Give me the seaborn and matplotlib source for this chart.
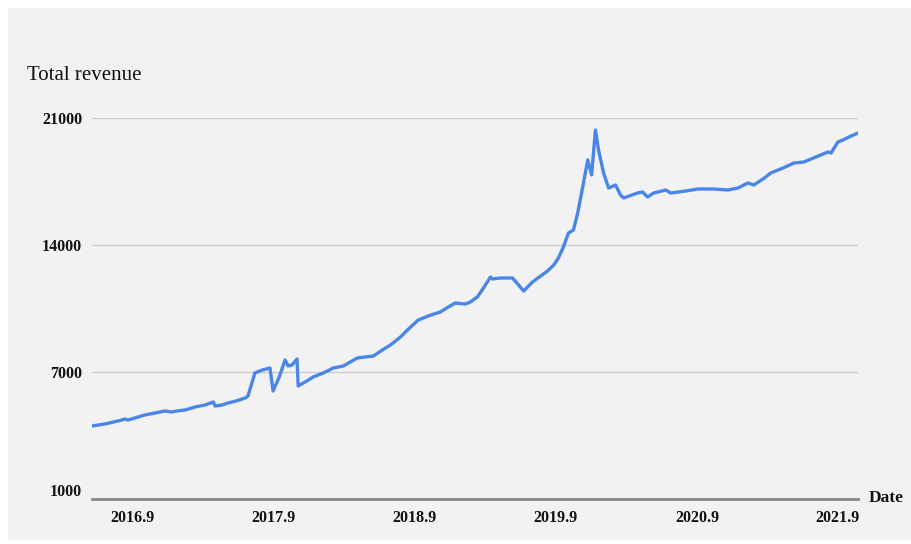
import matplotlib
matplotlib.use("Agg")
import matplotlib.pyplot as plt
from matplotlib.patches import Rectangle
from matplotlib.transforms import ScaledTranslation
import pandas as pd
import seaborn as sns

dates = [
    "2016-05-18", "2016-06-20", "2016-07-24", "2016-08-03", "2016-08-11", "2016-08-19",
    "2016-10-02", "2016-10-28", "2016-11-23", "2016-12-09", "2016-12-24", "2017-01-14",
    "2017-02-09", "2017-03-07", "2017-03-28", "2017-04-02", "2017-04-20", "2017-05-05",
    "2017-05-26", "2017-06-19", "2017-06-26", "2017-07-14", "2017-08-02", "2017-08-22",
    "2017-08-30", "2017-09-15", "2017-09-30", "2017-10-08", "2017-10-18", "2017-10-31",
    "2017-11-03", "2017-11-21", "2017-12-12", "2018-01-07", "2018-02-02", "2018-02-28",
    "2018-04-05", "2018-05-17", "2018-06-09", "2018-06-30", "2018-07-26", "2018-08-13",
    "2018-09-10", "2018-10-06", "2018-11-06", "2018-11-27", "2018-12-15", "2019-01-10",
    "2019-01-23", "2019-02-10", "2019-02-26", "2019-03-16", "2019-03-21", "2019-04-11",
    "2019-04-29", "2019-05-12", "2019-05-28", "2019-06-10", "2019-06-20", "2019-07-03",
    "2019-07-24", "2019-08-11", "2019-08-27", "2019-09-08", "2019-09-21", "2019-10-04",
    "2019-10-17", "2019-10-28", "2019-11-05", "2019-11-10", "2019-11-23", "2019-12-03",
    "2019-12-13", "2019-12-21", "2020-01-03", "2020-01-16", "2020-02-03", "2020-02-16",
    "2020-02-24", "2020-03-31", "2020-04-13", "2020-04-26", "2020-05-12", "2020-06-12",
    "2020-06-25", "2020-08-03", "2020-09-03", "2020-10-12", "2020-11-20", "2020-12-16",
    "2021-01-11", "2021-01-26", "2021-02-19", "2021-03-11", "2021-04-12", "2021-05-10",
    "2021-06-05", "2021-07-06", "2021-08-06", "2021-08-14", "2021-09-01", "2021-09-14",
    "2021-10-05", "2021-10-23",
]
revenue = [
    4024, 4134, 4299, 4354, 4410, 4354,
    4630, 4740, 4851, 4795, 4851, 4906,
    5071, 5181, 5347, 5126, 5181, 5292,
    5402, 5567, 5677, 6945, 7110, 7221,
    5953, 6725, 7662, 7331, 7386, 7717,
    6229, 6449, 6725, 6945, 7221, 7331,
    7772, 7882, 8213, 8488, 8929, 9315,
    9866, 10087, 10307, 10583, 10803, 10748,
    10858, 11134, 11630, 12236, 12126, 12181,
    12181, 12181, 11795, 11465, 11685, 11961,
    12292, 12567, 12898, 13284, 13890, 14662,
    14827, 15764, 16646, 17200, 18689, 17862,
    20339, 19237, 17969, 17142, 17307, 16756,
    16591, 16866, 16921, 16646, 16866, 17032,
    16866, 16976, 17087, 17087, 17032, 17142,
    17418, 17307, 17638, 17969, 18244, 18520,
    18575, 18851, 19127, 19071, 19677, 19787,
    20008, 20173,
]
tick_dates = ["2016-09-01", "2017-09-01", "2018-09-01", "2019-09-01", "2020-09-01", "2021-09-01"]
tick_labels = ["2016.9", "2017.9", "2018.9", "2019.9", "2020.9", "2021.9"]
y_ticks = [0, 7000, 14000, 21000]
y_labels = ["1000", "7000", "14000", "21000"]

df = pd.DataFrame({"Date": pd.to_datetime(dates), "Total revenue": revenue})

sns.set_style("white")
plt.rcParams["font.family"] = ["Liberation Serif", "DejaVu Serif"]

fig = plt.figure(figsize=(9.12, 5.44), dpi=100, facecolor="white")
bg = Rectangle((8 / 912, 4 / 544), 1 - 8 / 912, 532 / 544,
               transform=fig.transFigure, facecolor="#f2f2f2",
               edgecolor="none", zorder=-10)
fig.patches.append(bg)
ax = fig.add_axes([92 / 912, 1 - 499 / 544, (858 - 92) / 912, (499 - 118) / 544])
ax.set_facecolor("none")
ax.set_zorder(1)

sns.lineplot(data=df, x="Date", y="Total revenue", ax=ax, color="#4a86e8",
             linewidth=2.4, zorder=3)

ax.set_xlim(df["Date"].iloc[0], df["Date"].iloc[-1])
ax.set_ylim(0, 21000)
ax.set_yticks(y_ticks)
ax.set_yticklabels(y_labels, fontsize=11.5, fontweight="bold", color="#111111")
ax.set_xticks(pd.to_datetime(tick_dates))
ax.set_xticklabels(tick_labels, fontsize=11.5, fontweight="bold", color="#111111")
ax.tick_params(axis="y", length=0, pad=7)
ax.tick_params(axis="x", length=0, pad=8)
first = ax.get_yticklabels()[0]
first.set_transform(first.get_transform() + ScaledTranslation(0, 9 / 100, fig.dpi_scale_trans))

ax.grid(axis="y", color="#cccccc", linewidth=1)
ax.grid(axis="x", visible=False)
for s in ["top", "right", "left"]:
    ax.spines[s].set_visible(False)
ax.spines["bottom"].set_color("#888888")
ax.spines["bottom"].set_linewidth(2)

ax.set_xlabel("")
ax.set_ylabel("")
fig.text(27 / 912, 1 - 75 / 544, "Total revenue", fontsize=15, color="#111111",
         ha="left", va="center")
fig.text(869 / 912, 1 - 498 / 544, "Date", fontsize=12.5, fontweight="bold",
         color="#111111", ha="left", va="center")

fig.savefig("out.png", dpi=100, facecolor="white")
